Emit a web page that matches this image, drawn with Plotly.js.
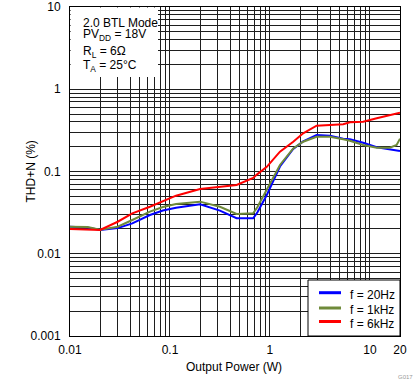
<!DOCTYPE html>
<html>
<head>
<meta charset="utf-8">
<script src="https://cdn.plot.ly/plotly-3.0.1.min.js"></script>
<style>
html,body{margin:0;padding:0;background:#fff;}
#chart{width:419px;height:382px;}
</style>
</head>
<body>
<div id="chart"></div>
<script>
// Output power (W)
const power = [0.01, 0.015, 0.02, 0.03, 0.042, 0.063, 0.085, 0.115, 0.2, 0.316, 0.464, 0.68, 0.75, 0.93, 1.26, 1.71, 2.15, 2.93, 3.98, 5.41, 6.31, 8.57, 11.7, 15.8, 18.5, 20];
// THD+N (%)
const thd20Hz = [0.0213, 0.0208, 0.0194, 0.0205, 0.0234, 0.0296, 0.0335, 0.0363, 0.0399, 0.0334, 0.027, 0.027, 0.032, 0.0518, 0.115, 0.188, 0.232, 0.278, 0.272, 0.25, 0.246, 0.224, 0.197, 0.186, 0.181, 0.178];
const thd1kHz = [0.0213, 0.0211, 0.0196, 0.0213, 0.0257, 0.0325, 0.037, 0.0403, 0.043, 0.0373, 0.0304, 0.031, 0.037, 0.0596, 0.120, 0.191, 0.230, 0.265, 0.265, 0.246, 0.237, 0.210, 0.195, 0.195, 0.21, 0.25];
const thd6kHz = [0.0200, 0.0198, 0.0195, 0.0245, 0.031, 0.0373, 0.044, 0.0508, 0.0613, 0.065, 0.0686, 0.0834, 0.093, 0.114, 0.174, 0.230, 0.291, 0.360, 0.370, 0.375, 0.396, 0.403, 0.443, 0.486, 0.505, 0.519];
const seriesNames = ["f = 20Hz", "f = 1kHz", "f = 6kHz"];
const seriesColors = ["#0000FF", "#6F8A3A", "#FF0000"];

const xTickLabels = ["0.01", "0.1", "1", "10", "20"];
const xTickMajor = [0.01, 0.1, 1, 10, 20];
const yTickLabels = ["0.001", "0.01", "0.1", "1", "10"];
const yTickMajor = [0.001, 0.01, 0.1, 1, 10];

function decadeTicks(lo, hi, maxVal, major, labels) {
  const vals = [], text = [];
  for (let e = lo; e < hi; e++) {
    for (let m = 1; m <= 9; m++) {
      const v = m * Math.pow(10, e);
      if (v > maxVal * 1.0001) continue;
      vals.push(v);
      const idx = major.findIndex(t => Math.abs(t - v) / t < 1e-6);
      text.push(idx >= 0 ? labels[idx] : "");
    }
  }
  major.forEach((t, i) => {
    if (!vals.some(v => Math.abs(v - t) / t < 1e-6)) { vals.push(t); text.push(labels[i]); }
  });
  return {vals, text};
}
const xt = decadeTicks(-2, 2, 20, xTickMajor, xTickLabels);
const yt = decadeTicks(-3, 2, 10, yTickMajor, yTickLabels);

const font = {family: "Liberation Sans, Arial, sans-serif", size: 12, color: "#000"};
const ys = [thd20Hz, thd1kHz, thd6kHz];
const traces = ys.map((y, i) => ({
  x: power, y: y, type: "scatter", mode: "lines", name: seriesNames[i],
  line: {color: seriesColors[i], width: 2}, showlegend: false
}));

// plot area geometry helpers (paper fractions)
const PW = 330, PH = 329, PL = 70, PT = 7;
const px = v => (v - PL) / PW;
const py = v => 1 - (v - PT) / PH;

const shapes = [
  {type: "rect", xref: "paper", yref: "paper", x0: px(70.6), x1: px(158), y0: py(77), y1: py(7.6),
   fillcolor: "#fff", line: {width: 0}, layer: "above"},
  {type: "rect", xref: "paper", yref: "paper", x0: px(308), x1: 1, y0: 0, y1: py(280),
   fillcolor: "#fff", line: {color: "#000", width: 1}, layer: "above"}
];
const legendRows = [292.7, 308, 321.5];
const annotations = [
  {xref: "paper", yref: "paper", x: px(81), y: py(23), xanchor: "left", yanchor: "middle",
   text: "2.0 BTL Mode", showarrow: false, font: font},
  {xref: "paper", yref: "paper", x: px(81), y: py(35.5), xanchor: "left", yanchor: "middle",
   text: "PV<sub>DD</sub> = 18V", showarrow: false, font: font},
  {xref: "paper", yref: "paper", x: px(81), y: py(52), xanchor: "left", yanchor: "middle",
   text: "R<sub>L</sub> = 6Ω", showarrow: false, font: font},
  {xref: "paper", yref: "paper", x: px(81), y: py(65.5), xanchor: "left", yanchor: "middle",
   text: "T<sub>A</sub> = 25°C", showarrow: false, font: font},
  {xref: "paper", yref: "paper", x: px(30), y: 0.5, xanchor: "center", yanchor: "middle",
   textangle: -90, text: "THD+N (%)", showarrow: false, font: font},
  {xref: "paper", yref: "paper", x: px(234), y: py(366.5), xanchor: "center", yanchor: "middle",
   text: "Output Power (W)", showarrow: false, font: font},
  {xref: "paper", yref: "paper", x: px(405), y: py(377), xanchor: "center", yanchor: "middle",
   text: "G017", showarrow: false, font: {family: font.family, size: 6, color: "#999"}}
];
seriesNames.forEach((n, i) => {
  shapes.push({type: "line", xref: "paper", yref: "paper", x0: px(319), x1: px(341),
               y0: py(legendRows[i]), y1: py(legendRows[i]),
               line: {color: seriesColors[i], width: 3}, layer: "above"});
  annotations.push({xref: "paper", yref: "paper", x: px(348), y: py(legendRows[i] + 2),
                    xanchor: "left", yanchor: "middle", text: n, showarrow: false, font: font});
});

const layout = {
  width: 419, height: 382,
  margin: {l: 70, r: 19, t: 7, b: 46},
  paper_bgcolor: "#fff", plot_bgcolor: "#fff",
  font: font,
  showlegend: false,
  xaxis: {type: "log", range: [-2, Math.log10(20)], tickmode: "array",
          tickvals: xt.vals, ticktext: xt.text, showgrid: true, gridcolor: "#1e1e1e",
          gridwidth: 1, showline: true, linecolor: "#000", linewidth: 1, mirror: true,
          ticks: "outside", ticklen: 3, tickcolor: "rgba(0,0,0,0)", zeroline: false,
          tickfont: font, fixedrange: true},
  yaxis: {type: "log", range: [-3, 1], tickmode: "array",
          tickvals: yt.vals, ticktext: yt.text, showgrid: true, gridcolor: "#1e1e1e",
          gridwidth: 1, showline: true, linecolor: "#000", linewidth: 1, mirror: true,
          ticks: "outside", ticklen: 6, tickcolor: "rgba(0,0,0,0)", zeroline: false,
          tickfont: font, fixedrange: true},
  shapes: shapes,
  annotations: annotations
};

Plotly.newPlot("chart", traces, layout, {displayModeBar: false, staticPlot: true});
</script>
</body>
</html>
